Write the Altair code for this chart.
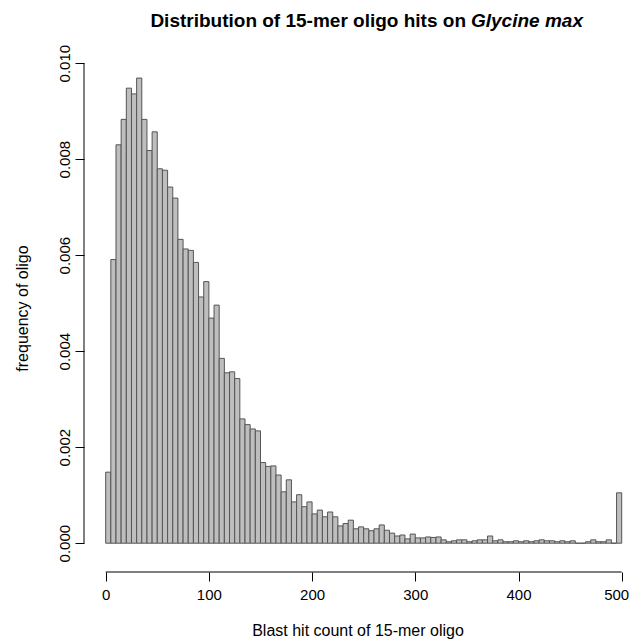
import altair as alt
import pandas as pd

# histogram breaks (width 5, 0..500) and densities
bin_edges = list(range(0, 505, 5))
density = [
    0.00148, 0.00591, 0.00830, 0.00883, 0.00948, 0.00936, 0.00969, 0.00883, 0.00818, 0.00857,
    0.00780, 0.00777, 0.00742, 0.00719, 0.00633, 0.00613, 0.00610, 0.00585, 0.00513, 0.00545,
    0.00469, 0.00496, 0.00385, 0.00355, 0.00357, 0.00343, 0.00259, 0.00247, 0.00238, 0.00234,
    0.00168, 0.00160, 0.00161, 0.00142, 0.00107, 0.00132, 0.00086, 0.00101, 0.00076, 0.00086,
    0.00061, 0.00069, 0.00055, 0.00065, 0.00055, 0.00036, 0.00041, 0.00048, 0.00030, 0.00034,
    0.00030, 0.00026, 0.00030, 0.00038, 0.00027, 0.00021, 0.00015, 0.00017, 0.00009, 0.00019,
    0.00011, 0.00011, 0.00013, 0.00012, 0.00013, 0.00007, 0.00003, 0.00005, 0.00007, 0.00007,
    0.00003, 0.00005, 0.00007, 0.00007, 0.00015, 0.00005, 0.00007, 0.00003, 0.00003, 0.00005,
    0.00003, 0.00005, 0.00003, 0.00005, 0.00007, 0.00005, 0.00005, 0.00003, 0.00005, 0.00003,
    0.00005, 0.0, 0.0, 0.00003, 0.00007, 0.00003, 0.00003, 0.00007, 0.0, 0.00105,
]
x_ticks = [0, 100, 200, 300, 400, 500]
y_ticks = [0.0, 0.002, 0.004, 0.006, 0.008, 0.010]

title_main = "Distribution of 15-mer oligo hits on"
title_species = "Glycine max"
x_title = "Blast hit count of 15-mer oligo"
y_title = "frequency of oligo"

df = pd.DataFrame({"start": bin_edges[:-1], "end": bin_edges[1:], "density": density})
one = pd.DataFrame({"k": [0]})

W, H = 547, 528
FONT = "Liberation Sans"

xscale = alt.Scale(domain=[-21, 509], nice=False, zero=False)
yscale = alt.Scale(domain=[-0.0006, 0.0104], nice=False, zero=False)

common_axis = dict(
    domain=False, grid=False, tickSize=9, tickColor="black", tickWidth=1,
    labelFont=FONT, labelFontSize=15, labelColor="black",
    labelOverlap=False, titleFont=FONT, titleFontSize=16, titleFontWeight="normal",
    titleColor="black",
)

bars = alt.Chart(df).mark_rect(fill="#BEBEBE", stroke="#555555", strokeWidth=1).encode(
    x=alt.X("start:Q", scale=xscale,
            axis=alt.Axis(values=x_ticks, format="d", title=x_title,
                          labelFlush=12, labelFlushOffset=7,
                          labelPadding=6, titlePadding=20, **common_axis)),
    x2="end:Q",
    y=alt.Y("density:Q", scale=yscale,
            axis=alt.Axis(values=y_ticks, format=".3f", title=y_title, labelFlush=False,
                          labelAngle=270, labelAlign="center", labelBaseline="bottom",
                          labelPadding=3, titlePadding=27, **common_axis)),
    y2=alt.datum(0),
)

xline = alt.Chart(one).mark_rule(color="black", strokeWidth=1).encode(
    x=alt.datum(x_ticks[0]), x2=alt.datum(x_ticks[-1]), y=alt.value(H)
)
yline = alt.Chart(one).mark_rule(color="black", strokeWidth=1).encode(
    y=alt.datum(y_ticks[0]), y2=alt.datum(y_ticks[-1]), x=alt.value(0)
)

t1 = alt.Chart(one).mark_text(
    text=title_main, font=FONT, fontSize=19, fontWeight="bold",
    align="right", baseline="alphabetic", color="black"
).encode(x=alt.value(382), y=alt.value(-17))
t2 = alt.Chart(one).mark_text(
    text=title_species, font=FONT, fontSize=19, fontWeight="bold", fontStyle="italic",
    align="left", baseline="alphabetic", color="black"
).encode(x=alt.value(387), y=alt.value(-17))

chart = alt.layer(bars, xline, yline, t1, t2).properties(
    width=W, height=H,
    padding={"left": 76, "top": 36, "right": 0, "bottom": 69},
    autosize=alt.AutoSizeParams(type="none"),
).configure_view(stroke=None)

chart.save("out.html", embed_options={"renderer": "svg", "actions": False})
